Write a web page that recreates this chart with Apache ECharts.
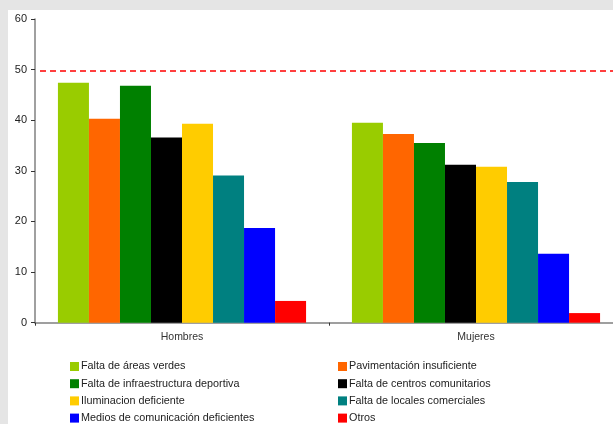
<!DOCTYPE html>
<html>
<head>
<meta charset="utf-8">
<script src="https://cdn.jsdelivr.net/npm/echarts@6/dist/echarts.min.js"></script>
<style>
  html, body { margin: 0; padding: 0; background: #e5e5e5; }
  #chart { width: 613px; height: 424px; }
</style>
</head>
<body>
<div id="chart"></div>
<script>
var categories = ['Hombres', 'Mujeres'];
var seriesNames = [
  'Falta de áreas verdes',
  'Pavimentación insuficiente',
  'Falta de infraestructura deportiva',
  'Falta de centros comunitarios',
  'Iluminacion deficiente',
  'Falta de locales comerciales',
  'Medios de comunicación deficientes',
  'Otros'
];
var colors = ['#99cc00', '#ff6600', '#008000', '#000000', '#ffcc00', '#008080', '#0000ff', '#ff0000'];
var hombres = [47.4, 40.3, 46.8, 36.6, 39.3, 29.1, 18.7, 4.3];
var mujeres = [39.5, 37.3, 35.5, 31.2, 30.8, 27.8, 13.6, 1.9];
var referenceLine = 49.8;
var yTicks = { min: 0, max: 60, interval: 10 };

var chart = echarts.init(document.getElementById('chart'));
var font = '"Liberation Sans", Arial, sans-serif';

var series = [];
for (var i = 0; i < seriesNames.length; i++) {
  series.push({
    name: seriesNames[i],
    type: 'bar',
    data: [hombres[i], mujeres[i]],
    itemStyle: { color: colors[i] },
    barGap: '0%',
    barCategoryGap: '15.6%',
    z: 2
  });
}
// dashed reference line
series[0].markLine = {
  silent: true,
  symbol: ['none', 'none'],
  label: { show: false },
  lineStyle: { color: '#ff0000', type: [6, 4], width: 1.5 },
  data: [[{ yAxis: referenceLine, x: 40 }, { yAxis: referenceLine, x: 613 }]]
};

// one legend per item, two columns of four rows
var legends = [];
for (var j = 0; j < seriesNames.length; j++) {
  legends.push({
    left: j % 2 === 0 ? 70 : 338,
    top: 361 + Math.floor(j / 2) * 17.2,
    itemWidth: 9,
    itemHeight: 9,
    icon: 'rect',
    padding: 0,
    textStyle: { fontFamily: font, fontSize: 10.8, color: '#222', padding: [0, 0, 0, -3] },
    data: [seriesNames[j]]
  });
}

var option = {
  backgroundColor: '#e5e5e5',
  animation: false,
  textStyle: { fontFamily: font },
  graphic: [{
    type: 'rect',
    z: -10,
    shape: { x: 8, y: 10, width: 605, height: 414 },
    style: { fill: '#ffffff' }
  }],
  grid: { left: 35, top: 19, width: 588, height: 303.7, outerBoundsMode: 'none' },
  legend: legends,
  xAxis: {
    type: 'category',
    data: categories,
    axisLine: { lineStyle: { color: '#808080', width: 1.5 } },
    axisTick: { show: true, length: 3, lineStyle: { color: '#333' } },
    axisLabel: { fontFamily: font, fontSize: 10.5, color: '#333', margin: 9 }
  },
  yAxis: {
    type: 'value',
    min: yTicks.min,
    max: yTicks.max,
    interval: yTicks.interval,
    splitLine: { show: false },
    axisLine: { show: true, lineStyle: { color: '#808080', width: 1.5 } },
    axisTick: { show: true, length: 4, lineStyle: { color: '#333' } },
    axisLabel: { fontFamily: font, fontSize: 11, color: '#222', margin: 8 }
  },
  series: series
};
chart.setOption(option);
</script>
</body>
</html>
